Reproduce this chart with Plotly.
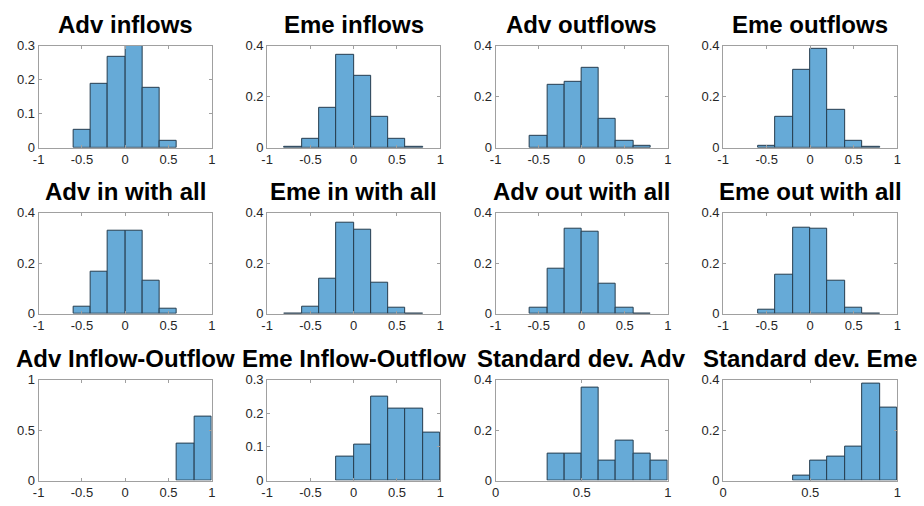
import plotly.graph_objects as go

# Histogram panels: title, left edges of the non-empty bins, bin width, relative frequencies
titles = [
    "Adv inflows", "Eme inflows", "Adv outflows", "Eme outflows",
    "Adv in with all", "Eme in with all", "Adv out with all", "Eme out with all",
    "Adv Inflow-Outflow", "Eme Inflow-Outflow", "Standard dev. Adv", "Standard dev. Eme",
]

adv_inflows_edges = [-0.6, -0.4, -0.2, 0.0, 0.2, 0.4]
adv_inflows = [0.054, 0.188, 0.269, 0.300, 0.176, 0.020]

eme_inflows_edges = [-0.8, -0.6, -0.4, -0.2, 0.0, 0.2, 0.4, 0.6]
eme_inflows = [0.005, 0.036, 0.158, 0.366, 0.284, 0.121, 0.036, 0.003]

adv_outflows_edges = [-0.6, -0.4, -0.2, 0.0, 0.2, 0.4, 0.6]
adv_outflows = [0.047, 0.248, 0.260, 0.312, 0.112, 0.026, 0.006]

eme_outflows_edges = [-0.6, -0.4, -0.2, 0.0, 0.2, 0.4, 0.6]
eme_outflows = [0.009, 0.122, 0.306, 0.389, 0.147, 0.029, 0.003]

adv_in_all_edges = [-0.6, -0.4, -0.2, 0.0, 0.2, 0.4]
adv_in_all = [0.026, 0.168, 0.328, 0.328, 0.132, 0.018]

eme_in_all_edges = [-0.8, -0.6, -0.4, -0.2, 0.0, 0.2, 0.4, 0.6]
eme_in_all = [0.001, 0.026, 0.139, 0.361, 0.334, 0.122, 0.022, 0.001]

adv_out_all_edges = [-0.6, -0.4, -0.2, 0.0, 0.2, 0.4, 0.6]
adv_out_all = [0.023, 0.177, 0.338, 0.324, 0.118, 0.022, 0.001]

eme_out_all_edges = [-0.6, -0.4, -0.2, 0.0, 0.2, 0.4, 0.6]
eme_out_all = [0.014, 0.154, 0.341, 0.338, 0.129, 0.023, 0.001]

adv_in_out_edges = [0.6, 0.8]
adv_in_out = [0.368, 0.632]

eme_in_out_edges = [-0.2, 0.0, 0.2, 0.4, 0.6, 0.8]
eme_in_out = [0.071, 0.107, 0.250, 0.214, 0.214, 0.143]

std_adv_edges = [0.3, 0.4, 0.5, 0.6, 0.7, 0.8, 0.9]
std_adv = [0.105, 0.105, 0.368, 0.079, 0.158, 0.105, 0.079]

std_eme_edges = [0.4, 0.5, 0.6, 0.7, 0.8, 0.9]
std_eme = [0.019, 0.077, 0.096, 0.135, 0.385, 0.288]

panel_edges = [adv_inflows_edges, eme_inflows_edges, adv_outflows_edges, eme_outflows_edges,
               adv_in_all_edges, eme_in_all_edges, adv_out_all_edges, eme_out_all_edges,
               adv_in_out_edges, eme_in_out_edges, std_adv_edges, std_eme_edges]
panel_values = [adv_inflows, eme_inflows, adv_outflows, eme_outflows,
                adv_in_all, eme_in_all, adv_out_all, eme_out_all,
                adv_in_out, eme_in_out, std_adv, std_eme]
bin_widths = [0.2] * 10 + [0.1, 0.1]

# Axis settings per panel
x_ranges = [[-1, 1]] * 10 + [[0, 1]] * 2
x_ticks = [[-1, -0.5, 0, 0.5, 1]] * 10 + [[0, 0.5, 1]] * 2
y_ranges = [[0, 0.3]] + [[0, 0.4]] * 7 + [[0, 1], [0, 0.3], [0, 0.4], [0, 0.4]]
y_ticks = ([[0, 0.1, 0.2, 0.3]] + [[0, 0.2, 0.4]] * 7
           + [[0, 0.5, 1], [0, 0.1, 0.2, 0.3], [0, 0.2, 0.4], [0, 0.2, 0.4]])

W, H = 924, 506
col_px = [(33, 208), (264, 439), (495, 669), (725, 901)]
row_px = [(40, 145), (212, 316), (384, 488)]

BAR_FILL = "#66aad7"
BAR_EDGE = "#263d4f"
AXIS_GRAY = "#a0a0a0"
TEXT_GRAY = "#262626"
FONT = "Liberation Sans, Arial, sans-serif"

fig = go.Figure()
annotations = []

for i in range(12):
    r, c = divmod(i, 4)
    n = i + 1
    xa = "x" if n == 1 else f"x{n}"
    ya = "y" if n == 1 else f"y{n}"
    fig.add_trace(go.Bar(
        x=panel_edges[i], y=panel_values[i],
        width=bin_widths[i], offset=0,
        marker=dict(color=BAR_FILL, line=dict(color=BAR_EDGE, width=1)),
        xaxis=xa, yaxis=ya, showlegend=False, hoverinfo="x+y",
    ))
    x0, x1 = col_px[c]
    y0, y1 = row_px[r]
    axis_common = dict(
        showline=True, linecolor=AXIS_GRAY, linewidth=1, mirror="ticks",
        ticks="inside", ticklen=3, tickcolor=AXIS_GRAY, showgrid=False, zeroline=False,
        tickfont=dict(family=FONT, size=13, color=TEXT_GRAY),
        fixedrange=True,
    )
    fig.layout[f"xaxis{n if n > 1 else ''}"] = dict(
        domain=[x0 / W, x1 / W], range=x_ranges[i], tickvals=x_ticks[i],
        ticktext=[f"{v:g}" for v in x_ticks[i]], anchor=ya, **axis_common)
    fig.layout[f"yaxis{n if n > 1 else ''}"] = dict(
        domain=[1 - y1 / H, 1 - y0 / H], range=y_ranges[i], tickvals=y_ticks[i],
        ticktext=[f"{v:g}" for v in y_ticks[i]], anchor=xa, **axis_common)
    annotations.append(dict(
        text=f"<b>{titles[i]}</b>", x=(x0 + x1) / 2 / W, y=1 - (y0 - 6) / H,
        xref="paper", yref="paper", xanchor="center", yanchor="bottom", showarrow=False,
        font=dict(family=FONT, size=24, color="black"),
    ))

fig.update_layout(
    width=W, height=H, margin=dict(l=0, r=0, t=0, b=0),
    paper_bgcolor="white", plot_bgcolor="white",
    annotations=annotations, bargap=0,
)

fig.write_html("out.html")
